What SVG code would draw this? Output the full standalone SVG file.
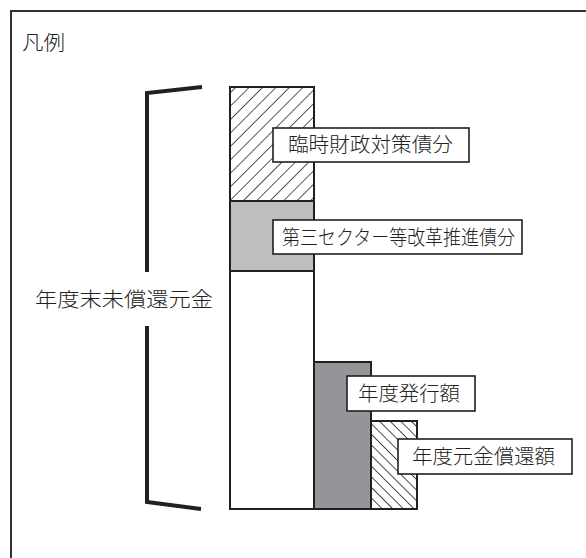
<svg xmlns="http://www.w3.org/2000/svg" width="586" height="558" viewBox="0 0 586 558">
<style>
.t{font-family:"Noto Sans CJK JP","Liberation Serif",serif;font-size:20px;fill:#222;font-weight:300;}
.bar{stroke:#231f20;stroke-width:2;}
.lbl{fill:#fff;stroke:#231f20;stroke-width:1.6;}
.br{fill:none;stroke:#231f20;stroke-width:4;}
</style>
<defs>
<pattern id="h1" patternUnits="userSpaceOnUse" width="9.5" height="9.5" patternTransform="rotate(45)">
<rect width="9.5" height="9.5" fill="#fff"/>
<line x1="0" y1="0" x2="0" y2="9.5" stroke="#231f20" stroke-width="1.5"/>
</pattern>
<pattern id="h2" patternUnits="userSpaceOnUse" width="7.5" height="7.5" patternTransform="rotate(-45)">
<rect width="7.5" height="7.5" fill="#fff"/>
<line x1="0" y1="0" x2="0" y2="7.5" stroke="#231f20" stroke-width="1.6"/>
</pattern>
</defs>
<rect width="586" height="558" fill="#fff"/>
<path d="M11,560 V11 H590" fill="none" stroke="#333" stroke-width="2"/>
<text class="t" x="22" y="50" textLength="43" lengthAdjust="spacingAndGlyphs">凡例</text>
<g id="bracket">
<polyline class="br" points="202,87 147,93 147,272"/>
<polyline class="br" points="147,326 147,502 201,509"/>
</g>
<g id="main-label">
<text class="t" x="35" y="307" textLength="178" lengthAdjust="spacingAndGlyphs">年度末未償還元金</text>
</g>
<g id="bar-main">
<rect class="bar" x="230" y="87" width="84" height="114" fill="url(#h1)"/>
<rect class="bar" x="230" y="201" width="84" height="70" fill="#bdbec0"/>
<rect class="bar" x="230" y="271" width="84" height="238" fill="#fff"/>
</g>
<g id="bar-issue">
<rect class="bar" x="314" y="362" width="57" height="147" fill="#939598"/>
</g>
<g id="bar-repay">
<rect class="bar" x="371" y="421" width="46" height="88" fill="url(#h2)"/>
</g>
<g id="label1">
<rect class="lbl" x="273" y="128" width="196" height="34"/>
<text class="t" x="288" y="152" textLength="165" lengthAdjust="spacingAndGlyphs">臨時財政対策債分</text>
</g>
<g id="label2">
<rect class="lbl" x="273" y="220" width="249" height="34"/>
<text class="t" x="282" y="244.5" textLength="233" lengthAdjust="spacingAndGlyphs">第三セクター等改革推進債分</text>
</g>
<g id="label3">
<rect class="lbl" x="347" y="376" width="128" height="35"/>
<text class="t" x="358" y="400.5" textLength="102" lengthAdjust="spacingAndGlyphs">年度発行額</text>
</g>
<g id="label4">
<rect class="lbl" x="398" y="439" width="174" height="35"/>
<text class="t" x="412" y="464" textLength="143" lengthAdjust="spacingAndGlyphs">年度元金償還額</text>
</g>
</svg>
